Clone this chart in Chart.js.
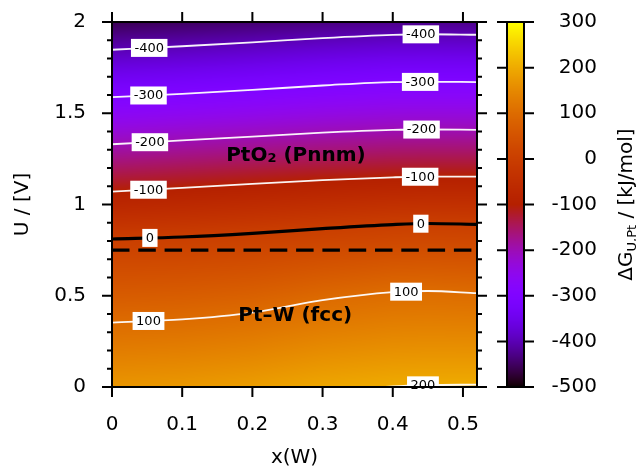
<!DOCTYPE html>
<html>
<head>
<meta charset="utf-8">
<script src="https://cdn.jsdelivr.net/npm/chart.js@4.4.1/dist/chart.umd.min.js"></script>
<style>
  html, body { margin: 0; padding: 0; background: #fff; }
</style>
</head>
<body>
<canvas id="pd" width="636" height="468"></canvas>
<script>
// x(W) positions where the contours were sampled
const xW = [0, 0.1, 0.2, 0.3, 0.4, 0.45, 0.52];

// ΔG contour levels (kJ/mol) and the potential U (V) at which each one is crossed
const levels = [-400, -300, -200, -100, 0, 100, 200];
const uM400 = [1.848, 1.867, 1.888, 1.912, 1.930, 1.933, 1.930];
const uM300 = [1.588, 1.606, 1.628, 1.652, 1.671, 1.672, 1.671];
const uM200 = [1.330, 1.351, 1.372, 1.394, 1.409, 1.411, 1.409];
const uM100 = [1.070, 1.091, 1.113, 1.134, 1.149, 1.153, 1.153];
const uZero = [0.811, 0.822, 0.842, 0.868, 0.890, 0.896, 0.891];
const uP100 = [0.353, 0.370, 0.407, 0.476, 0.520, 0.526, 0.514];
const uP200 = [-0.150, -0.130, -0.090, -0.030, 0.003, 0.010, 0.013];
const contourU = [uM400, uM300, uM200, uM100, uZero, uP100, uP200];

// inline contour labels: level and x(W) position
const labelLevel = [-400, -300, -200, -100, 0, 100, -400, -300, -200, -100, 0, 100, 200];
const labelX = [0.053, 0.052, 0.054, 0.052, 0.054, 0.052, 0.440, 0.439, 0.441, 0.439, 0.440, 0.419, 0.443];

// equilibrium potential (dashed)
const eqX = [0, 0.52];
const eqU = [0.75, 0.75];

// phase region names
const regionX = [0.262, 0.261];
const regionU = [1.266, 0.388];

// axes
const xTicks = [0, 0.1, 0.2, 0.3, 0.4, 0.5];
const yTicks = [0, 0.5, 1, 1.5, 2];
const yMinor = [0.1, 0.2, 0.3, 0.4, 0.6, 0.7, 0.8, 0.9, 1.1, 1.2, 1.3, 1.4, 1.6, 1.7, 1.8, 1.9];
const cbTicks = [-500, -400, -300, -200, -100, 0, 100, 200, 300];
const cbMin = -500, cbMax = 300;

const FONT = 'DejaVu Sans';
Chart.defaults.font.family = FONT;

// gnuplot rgbformulae 7,5,15
function palette(g) {
  g = Math.min(1, Math.max(0, g));
  return [
    Math.round(Math.sqrt(g) * 255),
    Math.round(g * g * g * 255),
    Math.round(Math.max(0, Math.sin(2 * Math.PI * g)) * 255)
  ];
}

function atX(arr, xv) {
  if (xv <= xW[0]) return arr[0];
  for (let i = 1; i < xW.length; i++) {
    if (xv <= xW[i]) {
      const t = (xv - xW[i - 1]) / (xW[i] - xW[i - 1]);
      return arr[i - 1] + t * (arr[i] - arr[i - 1]);
    }
  }
  return arr[arr.length - 1];
}

// ΔG at potential u given the contour crossings c (descending in U)
function fieldAt(c, u) {
  const n = c.length;
  let k = 0;
  if (u >= c[0]) k = 0;
  else if (u <= c[n - 1]) k = n - 2;
  else { while (k < n - 2 && u < c[k + 1]) k++; }
  const t = (u - c[k]) / (c[k + 1] - c[k]);
  return levels[k] + t * (levels[k + 1] - levels[k]);
}

const heatmap = {
  id: 'heatmap',
  beforeDatasetsDraw(chart) {
    const { ctx, chartArea: a, scales: { x, y } } = chart;
    const left = Math.round(a.left), top = Math.round(a.top);
    const w = Math.round(a.right) - left, h = Math.round(a.bottom) - top;
    const img = ctx.createImageData(w, h);
    for (let i = 0; i < w; i++) {
      const xv = x.getValueForPixel(left + i + 0.5);
      const c = contourU.map(arr => atX(arr, xv));
      for (let j = 0; j < h; j++) {
        const u = y.getValueForPixel(top + j + 0.5);
        const rgb = palette((fieldAt(c, u) - cbMin) / (cbMax - cbMin));
        const p = (j * w + i) * 4;
        img.data[p] = rgb[0]; img.data[p + 1] = rgb[1]; img.data[p + 2] = rgb[2]; img.data[p + 3] = 255;
      }
    }
    ctx.putImageData(img, left, top);
  }
};

// text made of runs of different size (sub/superscripts), centred on cx
function drawParts(ctx, parts, cx, cy, weight) {
  ctx.textAlign = 'left';
  let total = 0;
  parts.forEach(p => { ctx.font = weight + ' ' + p.s + 'px "' + FONT + '"'; p.w = ctx.measureText(p.t).width; total += p.w; });
  let xx = cx - total / 2;
  parts.forEach(p => {
    ctx.font = weight + ' ' + p.s + 'px "' + FONT + '"';
    ctx.fillText(p.t, xx, cy + p.dy);
    xx += p.w;
  });
}

const overlay = {
  id: 'overlay',
  afterDatasetsDraw(chart) {
    const { ctx, scales: { x, y } } = chart;
    ctx.save();
    // contour labels
    ctx.font = '13px "' + FONT + '"';
    ctx.textAlign = 'center';
    ctx.textBaseline = 'middle';
    labelLevel.forEach((lv, i) => {
      const k = levels.indexOf(lv);
      const px = x.getPixelForValue(labelX[i]);
      const py = y.getPixelForValue(atX(contourU[k], labelX[i]));
      const txt = String(lv);
      const tw = ctx.measureText(txt).width + 7;
      ctx.fillStyle = '#fff';
      ctx.fillRect(px - tw / 2, py - 9, tw, 18);
      ctx.fillStyle = '#000';
      ctx.fillText(txt, px, py + 0.5);
    });
    // phase names
    ctx.textBaseline = 'middle';
    ctx.fillStyle = '#000';
    drawParts(ctx, [{ t: 'PtO', s: 20, dy: 0 }, { t: '2', s: 13, dy: 3 }, { t: ' (Pnnm)', s: 20, dy: 0 }],
      x.getPixelForValue(regionX[0]), y.getPixelForValue(regionU[0]), 'bold');
    drawParts(ctx, [{ t: 'Pt\u2013W (fcc)', s: 20, dy: 0 }],
      x.getPixelForValue(regionX[1]), y.getPixelForValue(regionU[1]), 'bold');
    ctx.restore();
  },
  afterDraw(chart) {
    const { ctx, chartArea: a, scales: { x, y, cb } } = chart;
    ctx.save();
    ctx.strokeStyle = '#000';
    ctx.fillStyle = '#000';

    // ticks on all four sides, pointing outward
    ctx.lineWidth = 2;
    ctx.beginPath();
    xTicks.forEach(v => {
      const px = x.getPixelForValue(v);
      ctx.moveTo(px, a.bottom); ctx.lineTo(px, a.bottom + 10);
      ctx.moveTo(px, a.top); ctx.lineTo(px, a.top - 10);
    });
    yTicks.forEach(v => {
      const py = y.getPixelForValue(v);
      ctx.moveTo(a.left, py); ctx.lineTo(a.left - 10, py);
      ctx.moveTo(a.right, py); ctx.lineTo(a.right + 10, py);
    });
    yMinor.forEach(v => {
      const py = y.getPixelForValue(v);
      ctx.moveTo(a.left, py); ctx.lineTo(a.left - 5, py);
      ctx.moveTo(a.right, py); ctx.lineTo(a.right + 5, py);
    });
    ctx.stroke();

    ctx.strokeRect(a.left, a.top, a.right - a.left, a.bottom - a.top);

    // colour box
    const cbL = 507, cbR = 524;
    const t0 = Math.round(cb.getPixelForValue(cbMax)), t1 = Math.round(cb.getPixelForValue(cbMin));
    for (let py = t0; py < t1; py++) {
      const v = cb.getValueForPixel(py + 0.5);
      const rgb = palette((v - cbMin) / (cbMax - cbMin));
      ctx.fillStyle = 'rgb(' + rgb.join(',') + ')';
      ctx.fillRect(cbL, py, cbR - cbL, 1);
    }
    ctx.strokeRect(cbL, t0, cbR - cbL, t1 - t0);
    ctx.beginPath();
    cbTicks.forEach(v => {
      const py = cb.getPixelForValue(v);
      ctx.moveTo(cbL, py); ctx.lineTo(cbL - 10, py);
      ctx.moveTo(cbR, py); ctx.lineTo(cbR + 10, py);
    });
    ctx.stroke();

    ctx.fillStyle = '#000';
    ctx.font = '20px "' + FONT + '"';
    ctx.textAlign = 'right';
    ctx.textBaseline = 'middle';
    cbTicks.forEach(v => ctx.fillText(String(v), 597, cb.getPixelForValue(v)));

    // axis titles
    ctx.textAlign = 'center';
    ctx.fillText('x(W)', (a.left + a.right) / 2, 458);

    ctx.save();
    ctx.translate(28, (a.top + a.bottom) / 2);
    ctx.rotate(-Math.PI / 2);
    ctx.textBaseline = 'alphabetic';
    ctx.fillText('U / [V]', 0, 0);
    ctx.restore();

    ctx.save();
    ctx.translate(632, (a.top + a.bottom) / 2);
    ctx.rotate(-Math.PI / 2);
    ctx.textBaseline = 'alphabetic';
    drawParts(ctx, [{ t: '\u0394G', s: 20, dy: 0 }, { t: 'U,Pt', s: 13, dy: 4 }, { t: ' / [kJ/mol]', s: 20, dy: 0 }], 0, 0, 'normal');
    ctx.restore();

    ctx.restore();
  }
};

const datasets = contourU.map((arr, k) => ({
  label: String(levels[k]),
  data: arr.map((u, i) => ({ x: xW[i], y: u })),
  borderColor: levels[k] === 0 ? '#000' : 'rgba(255,255,255,0.95)',
  borderWidth: levels[k] === 0 ? 3.2 : 1.8,
  pointRadius: 0,
  cubicInterpolationMode: 'monotone',
  clip: 0,
  xAxisID: 'x',
  yAxisID: 'y'
}));
datasets.push({
  label: 'U_eq',
  data: eqX.map((v, i) => ({ x: v, y: eqU[i] })),
  borderColor: '#000',
  borderWidth: 3.2,
  borderDash: [17.5, 8.8],
  pointRadius: 0,
  clip: 0,
  xAxisID: 'x',
  yAxisID: 'y'
});

const tickFont = { family: FONT, size: 20 };

new Chart(document.getElementById('pd'), {
  type: 'line',
  data: { datasets },
  options: {
    responsive: false,
    animation: false,
    devicePixelRatio: 1,
    events: [],
    layout: { padding: { top: 22, right: 159, left: 0, bottom: 0 } },
    plugins: { legend: { display: false }, tooltip: { enabled: false } },
    scales: {
      x: {
        type: 'linear', min: 0, max: 0.52,
        grid: { display: false, drawTicks: false },
        border: { display: false },
        ticks: { font: tickFont, color: '#000', padding: 26, autoSkip: false, maxRotation: 0,
                 callback: v => String(Math.round(v * 10) / 10) },
        afterBuildTicks: s => { s.ticks = xTicks.map(v => ({ value: v })); },
        afterFit: s => { s.height = 81; s.paddingLeft = 0; s.paddingRight = 0; }
      },
      y: {
        type: 'linear', min: 0, max: 2, position: 'left',
        grid: { display: false, drawTicks: false },
        border: { display: false },
        ticks: { font: tickFont, color: '#000', padding: 26, autoSkip: false,
                 callback: v => String(Math.round(v * 10) / 10) },
        afterBuildTicks: s => { s.ticks = yTicks.map(v => ({ value: v })); },
        afterFit: s => { s.width = 112; s.paddingTop = 0; s.paddingBottom = 0; }
      },
      cb: { type: 'linear', axis: 'y', position: 'right', display: false, min: cbMin, max: cbMax }
    }
  },
  plugins: [heatmap, overlay]
});
</script>
</body>
</html>
